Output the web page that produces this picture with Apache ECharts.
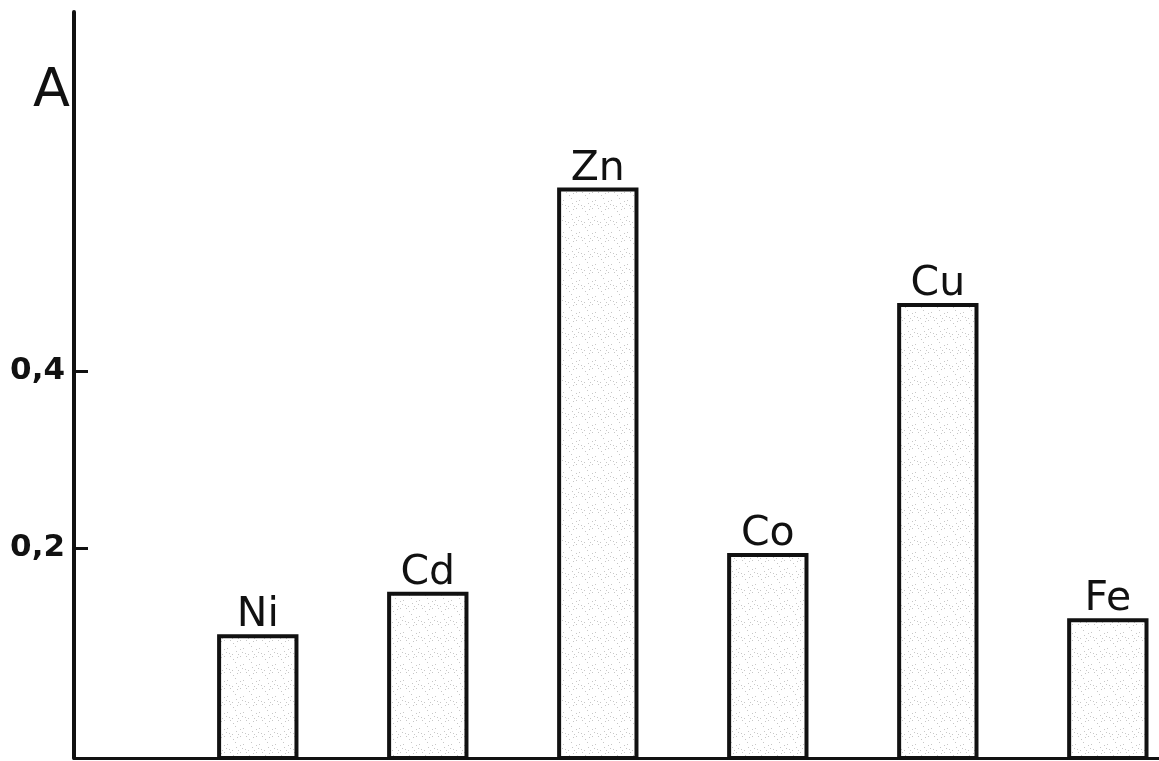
<!DOCTYPE html>
<html>
<head>
<meta charset="utf-8">
<script src="https://cdn.jsdelivr.net/npm/echarts@6/dist/echarts.min.js"></script>
<style>
  html, body { margin: 0; padding: 0; background: #fff; }
  #chart { width: 1159px; height: 761px; }
</style>
</head>
<body>
<div id="chart"></div>
<script>
// Absorbance (A) of each metal complex
const categories = ['Ni', 'Cd', 'Zn', 'Co', 'Cu', 'Fe'];
const absorbance = [0.100, 0.148, 0.606, 0.192, 0.475, 0.118];

// Y-axis tick marks and their labels (decimal comma)
const tickValues = [0.2, 0.4];
const tickLabels = ['0,2', '0,4'];

const INK = '#111';
const Y_MIN = -0.038;
const Y_MAX = 0.807;
const BAR_WIDTH = 0.455; // in x-axis units (one unit per metal)

// Stippled fill for the bars: deterministic sparse dots on white
function makeStipple() {
  const size = 16;
  const c = document.createElement('canvas');
  c.width = size; c.height = size;
  const g = c.getContext('2d');
  g.fillStyle = '#ffffff';
  g.fillRect(0, 0, size, size);
  g.fillStyle = 'rgba(130,130,130,0.45)';
  for (let k = 0; k < 12; k++) {
    const x = (k * 7 + (k * k) % 5) % size;
    const y = (k * 11 + (k * 3) % 7) % size;
    g.fillRect(x, y, 1, 1);
  }
  return c;
}
const stipple = { image: makeStipple(), repeat: 'repeat' };

const chart = echarts.init(document.getElementById('chart'), null, { renderer: 'canvas' });

chart.setOption({
  animation: false,
  backgroundColor: '#ffffff',
  title: {
    text: 'A',
    left: 33,
    top: 65,
    padding: 0,
    textStyle: { fontFamily: 'DejaVu Sans', fontSize: 54, fontWeight: 'normal', color: INK }
  },
  grid: { left: 74, right: 0, top: 12, bottom: 3, containLabel: false },
  xAxis: {
    type: 'value',
    min: -1.081,
    max: 5.301,
    axisLine: { show: true, onZero: false, lineStyle: { color: INK, width: 3 } },
    axisTick: { show: false },
    axisLabel: { show: false },
    splitLine: { show: false }
  },
  yAxis: {
    type: 'value',
    min: Y_MIN,
    max: Y_MAX,
    axisLine: { show: true, onZero: false, lineStyle: { color: INK, width: 4 } },
    axisTick: {
      show: true,
      inside: true,
      length: 14,
      customValues: tickValues,
      lineStyle: { color: INK, width: 3 }
    },
    axisLabel: {
      show: true,
      customValues: tickValues,
      margin: 9,
      color: INK,
      fontFamily: 'DejaVu Sans',
      fontSize: 31,
      fontWeight: 'bold',
      formatter: function (v) {
        const i = tickValues.findIndex(t => Math.abs(t - v) < 1e-6);
        return i >= 0 ? tickLabels[i] : '';
      }
    },
    splitLine: { show: false }
  },
  series: [{
    type: 'custom',
    data: categories.map((c, i) => [i, absorbance[i]]),
    renderItem: function (params, api) {
      const top = api.coord([api.value(0), api.value(1)]);
      const base = api.coord([api.value(0), Y_MIN]);
      const w = api.size([BAR_WIDTH, 0])[0];
      return {
        type: 'group',
        children: [
          {
            type: 'rect',
            shape: { x: top[0] - w / 2, y: top[1], width: w, height: base[1] - top[1] },
            style: { fill: stipple, stroke: INK, lineWidth: 4 }
          },
          {
            type: 'text',
            x: top[0],
            y: top[1],
            style: {
              text: categories[params.dataIndex],
              fill: INK,
              font: 'normal 41px "DejaVu Sans"',
              align: 'center',
              verticalAlign: 'bottom'
            }
          }
        ]
      };
    }
  }]
});
</script>
</body>
</html>
